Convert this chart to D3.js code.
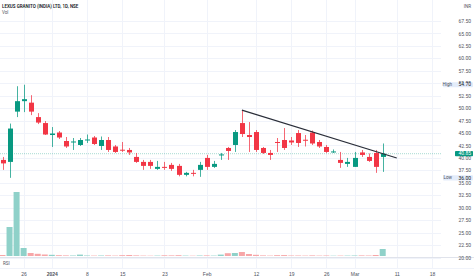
<!DOCTYPE html>
<html><head><meta charset="utf-8">
<script src="https://cdn.jsdelivr.net/npm/d3@7"></script>
<style>html,body{margin:0;padding:0;background:#fff;}svg{display:block;font-family:Roboto,"Noto Sans",sans-serif;}</style>
</head><body>
<script>
const dates = ["2023-12-20","2023-12-21","2023-12-22","2023-12-26","2023-12-27","2023-12-28","2023-12-29",
"2024-01-01","2024-01-02","2024-01-03","2024-01-04","2024-01-05","2024-01-08","2024-01-09","2024-01-10","2024-01-11","2024-01-12",
"2024-01-15","2024-01-16","2024-01-17","2024-01-18","2024-01-19","2024-01-20","2024-01-23","2024-01-24","2024-01-25",
"2024-01-29","2024-01-30","2024-01-31","2024-02-01","2024-02-02","2024-02-05","2024-02-06","2024-02-07","2024-02-08","2024-02-09",
"2024-02-12","2024-02-13","2024-02-14","2024-02-15","2024-02-16","2024-02-19","2024-02-20","2024-02-21","2024-02-22","2024-02-23",
"2024-02-26","2024-02-27","2024-02-28","2024-02-29","2024-03-01","2024-03-04","2024-03-05","2024-03-06","2024-03-07"];
const open  = [39.6,39.2,49.3,51.4,51.1,48.2,47.0,44.6,45.1,43.4,43.2,42.6,43.5,44.1,42.4,43.6,42.3,41.65,41.6,40.2,39.2,39.2,37.8,38.2,38.6,38.4,36.6,37.0,37.6,40.0,38.2,40.5,42.0,42.6,47.0,44.6,45.2,42.0,41.0,43.2,43.6,43.5,45.0,43.65,45.1,43.2,42.2,41.2,39.6,38.8,38.2,41.1,40.2,41.0,40.2];
const high  = [40.2,46.9,54.4,54.7,52.6,49.0,47.4,46.2,45.4,44.2,44.0,44.0,44.7,44.4,44.3,44.2,42.6,43.2,42.0,41.0,39.6,39.6,39.4,39.2,39.0,38.8,37.2,37.6,39.2,40.6,39.4,41.0,42.2,45.6,49.6,47.2,45.6,42.2,41.6,44.0,46.0,44.2,45.6,44.6,45.5,43.6,42.6,41.7,41.2,40.0,41.2,41.6,40.9,41.6,42.9];
const low   = [37.6,36.0,48.2,49.2,48.6,46.8,44.6,42.2,43.8,42.0,41.6,42.4,43.0,42.6,41.6,41.2,41.0,41.2,40.6,39.0,37.6,37.8,37.6,37.6,37.4,36.3,36.3,36.3,36.2,37.6,38.0,39.6,39.6,41.2,44.2,41.2,41.2,40.8,39.6,41.2,41.6,42.6,42.2,42.3,42.6,42.0,41.0,41.0,38.0,38.2,38.2,40.2,39.2,37.0,37.2];
const close = [38.9,45.9,51.4,51.8,49.3,47.1,44.7,44.9,44.1,42.3,43.3,43.6,43.7,42.8,43.6,41.6,41.2,41.5,41.1,39.2,38.4,38.4,38.2,38.1,37.8,36.6,37.0,36.9,38.6,38.2,38.8,40.7,41.4,45.2,44.8,44.2,41.6,41.0,40.6,43.1,42.0,43.1,43.0,43.55,42.9,42.3,41.2,41.3,39.0,39.2,40.0,40.6,39.4,38.2,40.85];
const volume = [10,290,640,80,30,22,15,12,8,6,5,14,5,4,5,6,4,8,10,6,4,3,4,7,6,8,4,3,5,6,4,14,28,30,40,20,12,6,4,8,9,5,5,4,6,4,5,3,4,4,5,6,5,10,70];
const priceTicks = [20,22.5,25,27.5,30,32.5,35,37.5,40,42.5,45,47.5,50,52.5,55,57.5,60,62.5,65,67.5];
const dateTickIdx = [3,7,12,17,23,29,36,41,46,50,56,61];
const dateTickLabels = ["26","2024","8","15","23","Feb","12","19","26","Mar","11","18"];
const trendIdx = [34,56];
const trendPrice = [49.6,40.0];
const lastPrice = 40.85, highPrice = 54.70, lowPrice = 36.00;
const title = "LEXUS GRANITO (INDIA) LTD, 1D, NSE";

const W=474,H=279;
const UP="#089981", DN="#F23645";
const svg=d3.select("body").append("svg").attr("width",W).attr("height",H);
svg.append("rect").attr("width",W).attr("height",H).attr("fill","#fff");

const x=d3.scaleLinear().domain([0,54]).range([2.5,382.7]);
const y=d3.scaleLinear().domain([20,67.5]).range([257.5,21]);
const yv=d3.scaleLinear().domain([0,640]).range([256,192]);
const plotR=441;

// grid
svg.append("g").selectAll("line").data(priceTicks).join("line")
  .attr("x1",0).attr("x2",plotR).attr("y1",d=>Math.round(y(d))+0.5).attr("y2",d=>Math.round(y(d))+0.5)
  .attr("stroke","#f0f3fa").attr("stroke-width",1);
svg.append("g").selectAll("line").data(dateTickIdx).join("line")
  .attr("x1",d=>Math.round(x(d))+0.5).attr("x2",d=>Math.round(x(d))+0.5).attr("y1",0).attr("y2",268)
  .attr("stroke","#f0f3fa").attr("stroke-width",1);

// pane separators
svg.append("line").attr("x1",0).attr("x2",W).attr("y1",257.5).attr("y2",257.5).attr("stroke","#e0e3eb");
svg.append("line").attr("x1",0).attr("x2",W).attr("y1",268.5).attr("y2",268.5).attr("stroke","#f0f3fa");

const idx=d3.range(dates.length);
// volume
svg.append("g").selectAll("rect").data(idx).join("rect")
  .attr("x",i=>x(i)-3).attr("width",6)
  .attr("y",i=>yv(volume[i])).attr("height",i=>yv(0)-yv(volume[i]))
  .attr("fill",i=>close[i]>=open[i]?"#8fd1c9":"#f7a6a8");

// last price line
svg.append("line").attr("x1",0).attr("x2",plotR).attr("y1",y(lastPrice)).attr("y2",y(lastPrice))
  .attr("stroke",UP).attr("stroke-opacity",0.35).attr("stroke-dasharray","1,1");

// candles
const cg=svg.append("g");
cg.selectAll("line").data(idx).join("line")
  .attr("x1",i=>Math.round(x(i))+0.5).attr("x2",i=>Math.round(x(i))+0.5)
  .attr("y1",i=>y(high[i])).attr("y2",i=>y(low[i]))
  .attr("stroke",i=>close[i]>=open[i]?UP:DN).attr("stroke-width",1).attr("stroke-opacity",0.75);
cg.selectAll("rect").data(idx).join("rect")
  .attr("x",i=>Math.round(x(i))-2).attr("width",5)
  .attr("y",i=>y(Math.max(open[i],close[i])))
  .attr("height",i=>Math.max(1,Math.abs(y(open[i])-y(close[i]))))
  .attr("fill",i=>close[i]>=open[i]?UP:DN);

// trend line
svg.append("line").attr("x1",x(trendIdx[0])).attr("y1",y(trendPrice[0]))
  .attr("x2",x(trendIdx[1])).attr("y2",y(trendPrice[1]))
  .attr("stroke","#2a2e39").attr("stroke-width",1.1);

// price axis
const ya=svg.append("g").attr("transform",`translate(${W-3},0)`)
  .call(d3.axisLeft(y).tickValues(priceTicks).tickFormat(d=>d.toFixed(2)).tickSize(0).tickPadding(0));
ya.select(".domain").remove();
ya.selectAll("text").attr("font-size",5).attr("fill","#50535e").attr("font-family","Roboto,sans-serif");

// tags
function tag(val,label,bg,fg,lx){
  const g=svg.append("g");
  const yy=y(val);
  g.append("rect").attr("x",lx).attr("y",yy-2.6).attr("width",W-1-lx).attr("height",5.2).attr("fill",bg).attr("rx",0.8);
  if(label) g.append("text").attr("x",452).attr("y",yy).attr("dy","0.35em").attr("text-anchor","end")
    .attr("font-size",4.6).attr("fill","#50535e").text(label);
  g.append("text").attr("x",W-3).attr("y",yy).attr("dy","0.35em").attr("text-anchor","end")
    .attr("font-size",5).attr("fill",fg).text(val.toFixed(2));
}
tag(highPrice,"High","#e3ecfa","#131722",443);
tag(lowPrice,"Low","#e3ecfa","#131722",443);
tag(lastPrice,null,UP,"#fff",455);

// date axis
const xa=svg.append("g").attr("transform","translate(0,274)")
  .call(d3.axisBottom(x).tickValues(dateTickIdx).tickFormat((d,i)=>dateTickLabels[i]).tickSize(0).tickPadding(0));
xa.select(".domain").remove();
xa.selectAll("text").attr("font-size",5).attr("fill","#50535e").attr("dy","0.35em")
  .attr("font-weight",(d,i)=>dateTickLabels[i]==="2024"?"bold":"normal");

// header texts
svg.append("text").attr("x",2).attr("y",6).attr("dy","0.35em").attr("font-size",4.5).attr("font-weight",600)
  .attr("fill","#131722").text(title);
svg.append("text").attr("x",2).attr("y",12.5).attr("dy","0.35em").attr("font-size",4.5).attr("fill","#50535e").text("Vol");
svg.append("text").attr("x",W-3).attr("y",6).attr("dy","0.35em").attr("text-anchor","end").attr("font-size",4.5).attr("fill","#50535e").text("INR");
svg.append("text").attr("x",3).attr("y",263).attr("dy","0.35em").attr("font-size",4.5).attr("fill","#50535e").text("RSI");
</script>
</body></html>
